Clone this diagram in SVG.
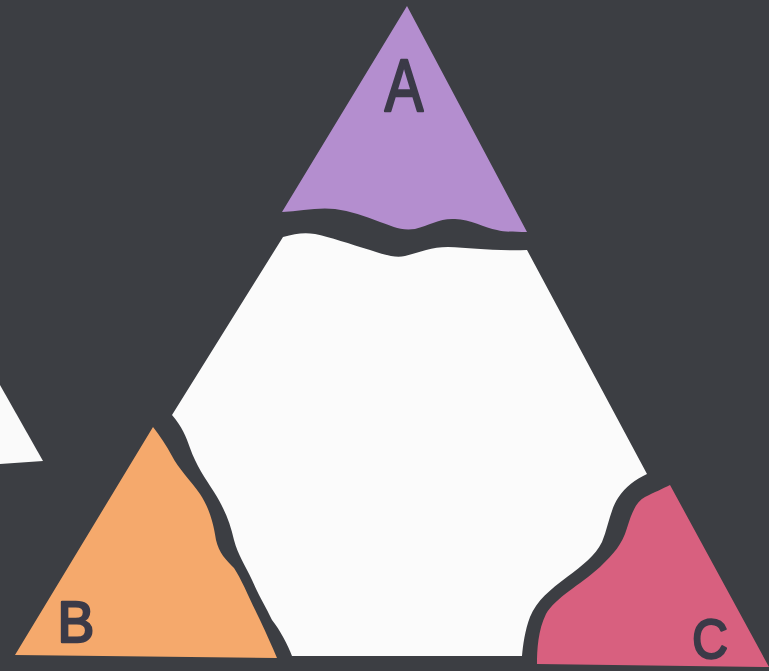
<svg xmlns="http://www.w3.org/2000/svg" width="769" height="671" viewBox="0 0 769 671">
<style>
.lbl{font-family:"Liberation Sans","DejaVu Sans",sans-serif;fill:#3b3a48;stroke:#3b3a48;stroke-width:2.5;stroke-linejoin:round;}
</style>
<rect width="769" height="671" fill="#3c3e43"/>
<g id="white-left">
<path d="M0,385 L43,461 L0,464 Z" fill="#fafafa"/>
</g>
<g id="hexagon">
<path d="M283,237 C295,234 303,232 315,234 C330,237 350,244 370,250 C385,255 395,258 405,256 C420,252 432,247 448,247 C470,248 495,251 527,250 L647,474 C635,480 626,486 618,498 C610,510 608,528 602,542 C595,556 583,565 567,577 C550,590 537,600 530,617 C525,630 523,645 522,656 L292,656 C288,645 280,630 272,620 C265,605 260,598 252,580 C245,565 238,555 234,540 C230,522 224,508 214,492 C205,478 196,465 190,448 C186,436 182,427 172,415 Z" fill="#fbfbfb"/>
</g>
<g id="A">
<path d="M407,6 L527,232 C515,232 505,232 497,230 C485,228 470,219 455,219 C440,218 430,225 415,229 C400,231 392,226 380,222 C365,216 350,211 335,209 C318,207 300,211 282,212 Z" fill="#b48ecf"/>
<text class="lbl" x="404" y="111" font-size="74" text-anchor="middle" transform="translate(404,0) scale(0.78,1) translate(-404,0)">A</text>
</g>
<g id="B">
<path d="M153,427 C160,436 166,445 172,456 C178,468 190,480 200,494 C208,506 213,520 216,540 C219,553 226,560 234,568 C242,580 250,600 260,620 C267,635 272,646 277,658 L15,655 Z" fill="#f5a96c"/>
<text class="lbl" x="76" y="642" font-size="58" text-anchor="middle" transform="translate(76,0) scale(0.95,1) translate(-76,0)">B</text>
</g>
<g id="C">
<path d="M670,485 L769,667 L537,664 C537,650 538,630 546,614 C555,598 580,585 600,567 C614,553 622,545 627,528 C632,512 636,502 645,497 C655,492 662,489 670,485 Z" fill="#d8607f"/>
<text class="lbl" x="710" y="658" font-size="56" text-anchor="middle" transform="translate(710,0) scale(0.88,1) translate(-710,0)">C</text>
</g>
</svg>
